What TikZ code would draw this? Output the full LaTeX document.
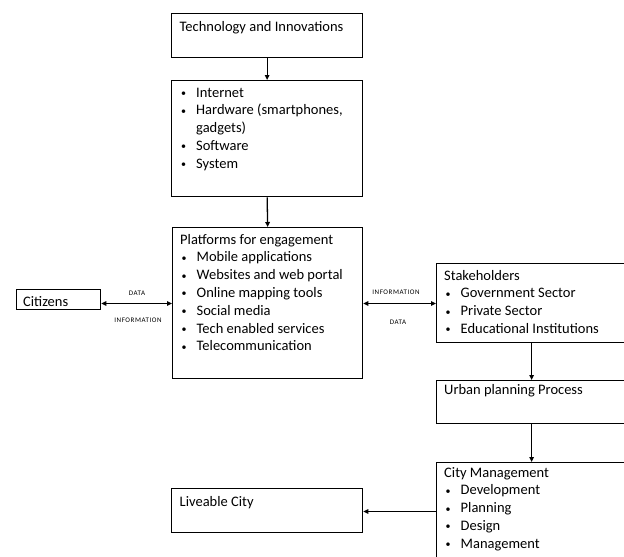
\documentclass[tikz,border=0pt]{standalone}
\usepackage{fontspec}
\setmainfont{Carlito}
\usetikzlibrary{arrows.meta,calc}
\newcommand{\bul}[1]{\makebox[16.5pt][l]{\hspace{1.5pt}\raisebox{0.6pt}{\fontsize{10}{10}\selectfont •}}#1}
\newcommand{\ind}[1]{\hspace*{16.5pt}#1}
\tikzset{
  boxnode/.style={draw, line width=1.3pt, anchor=north west, inner sep=0pt},
  txt/.style={anchor=base west, inner sep=0pt, font=\fontsize{14.5}{17.8}\selectfont},
  small/.style={inner sep=0pt, font=\fontsize{7}{7}\selectfont\addfontfeature{LetterSpace=8}},
  conn/.style={line width=1.3pt, -{Triangle[length=5pt,width=4.5pt]}},
  dconn/.style={line width=1.3pt, {Triangle[length=5pt,width=4.5pt]}-{Triangle[length=5pt,width=4.5pt]}}
}
\begin{document}
\begin{tikzpicture}[x=1pt,y=-1pt]
\useasboundingbox (0,0) rectangle (624,557);
\clip (0,0) rectangle (624,557);
% boxes
\node[boxnode, minimum width=191pt, minimum height=44pt] (tech) at (171,13) {};
\node[boxnode, minimum width=191pt, minimum height=116pt] (list) at (171,80) {};
\node[boxnode, minimum width=190pt, minimum height=151pt] (plat) at (172,227) {};
\node[boxnode, minimum width=84pt, minimum height=20pt] (cit) at (16,289) {};
\node[boxnode, minimum width=190pt, minimum height=79pt] (stake) at (436,263) {};
\node[boxnode, minimum width=190pt, minimum height=43pt] (urban) at (436,380) {};
\node[boxnode, minimum width=190pt, minimum height=100pt] (city) at (436,462) {};
\node[boxnode, minimum width=191pt, minimum height=44pt] (live) at (171,488) {};
% texts
\node[txt] (techt) at (179.5,31) {\begin{tabular}[t]{@{}l@{}}Technology and Innovations\end{tabular}};
\node[txt] (listt) at (179.5,97) {\begin{tabular}[t]{@{}l@{}}\bul{Internet}\\ \bul{Hardware (smartphones,}\\ \ind{gadgets)}\\ \bul{Software}\\ \bul{System}\end{tabular}};
\node[txt] (platt) at (180,244) {\begin{tabular}[t]{@{}l@{}}Platforms for engagement\\ \bul{Mobile applications}\\ \bul{Websites and web portal}\\ \bul{Online mapping tools}\\ \bul{Social media}\\ \bul{Tech enabled services}\\ \bul{Telecommunication}\end{tabular}};
\node[txt] (citt) at (23,306) {\begin{tabular}[t]{@{}l@{}}Citizens\end{tabular}};
\node[txt] (staket) at (444,280) {\begin{tabular}[t]{@{}l@{}}Stakeholders\\ \bul{Government Sector}\\ \bul{Private Sector}\\ \bul{Educational Institutions}\end{tabular}};
\node[txt] (urbant) at (444,394) {\begin{tabular}[t]{@{}l@{}}Urban planning Process\end{tabular}};
\node[txt] (cityt) at (444,477) {\begin{tabular}[t]{@{}l@{}}City Management\\ \bul{Development}\\ \bul{Planning}\\ \bul{Design}\\ \bul{Management}\end{tabular}};
\node[txt] (livet) at (179.5,506) {\begin{tabular}[t]{@{}l@{}}Liveable City\end{tabular}};
% connectors
\coordinate (hy) at (0,303.5);
\coordinate (ly) at (0,511.5);
\draw[conn] (tech.south) -- (list.north);
\draw[conn] (list.south) -- (plat.north);
\draw[dconn] (cit.east |- hy) -- (plat.west |- hy);
\draw[dconn] (plat.east |- hy) -- (stake.west |- hy);
\draw[conn] (stake.south) -- (urban.north);
\draw[conn] (urban.south) -- (city.north);
\draw[conn] (city.west |- ly) -- (live.east |- ly);
% labels
\node[small] (l1) at (137,293) {DATA};
\node[small] (l2) at (138,320) {INFORMATION};
\node[small] (l3) at (396,292) {INFORMATION};
\node[small] (l4) at (398,322) {DATA};
\end{tikzpicture}
\end{document}
